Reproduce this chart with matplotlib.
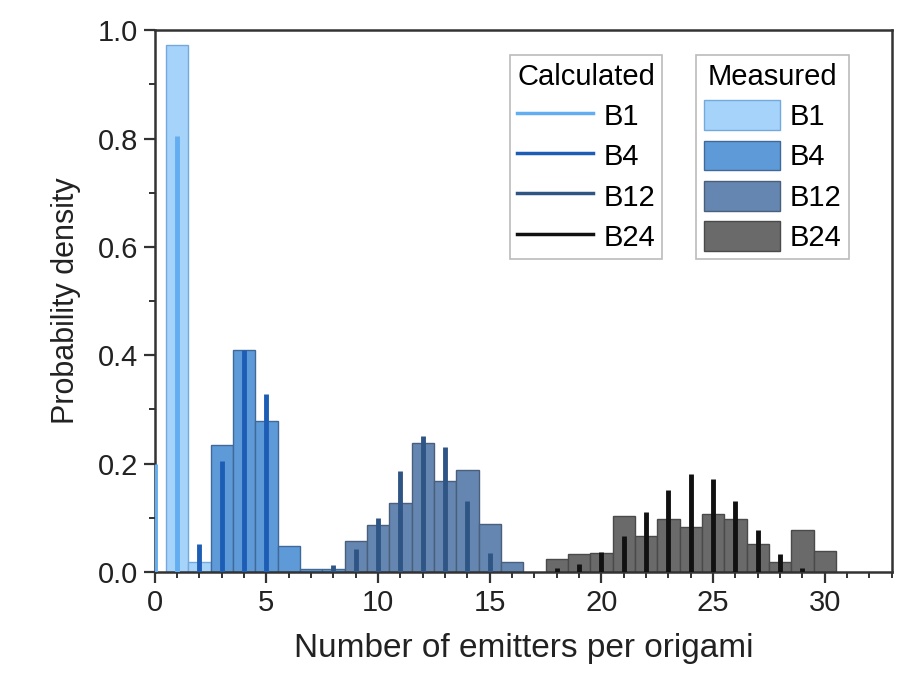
import matplotlib
matplotlib.use("Agg")
import matplotlib.pyplot as plt
from matplotlib.lines import Line2D
from matplotlib.patches import Patch
from matplotlib.ticker import MultipleLocator, FormatStrFormatter

plt.rcParams['font.family'] = ['Liberation Sans', 'DejaVu Sans']

series = ["B1", "B4", "B12", "B24"]

# Measured histograms (bin centre -> probability density)
meas_b1_x = [1, 2]
meas_b1_y = [0.972, 0.018]
meas_b4_x = [3, 4, 5, 6, 7, 8]
meas_b4_y = [0.235, 0.41, 0.278, 0.047, 0.006, 0.006]
meas_b12_x = [9, 10, 11, 12, 13, 14, 15, 16]
meas_b12_y = [0.057, 0.087, 0.128, 0.238, 0.168, 0.188, 0.088, 0.018]
meas_b24_x = [18, 19, 20, 21, 22, 23, 24, 25, 26, 27, 28, 29, 30]
meas_b24_y = [0.024, 0.033, 0.034, 0.103, 0.067, 0.097, 0.082, 0.107,
              0.097, 0.052, 0.018, 0.078, 0.038]

# Calculated distributions
calc_b1_x = [0, 1]
calc_b1_y = [0.2, 0.805]
calc_b4_x = [2, 3, 4, 5]
calc_b4_y = [0.051, 0.205, 0.41, 0.328]
calc_b12_x = [8, 9, 10, 11, 12, 13, 14, 15]
calc_b12_y = [0.013, 0.042, 0.10, 0.187, 0.25, 0.23, 0.131, 0.034]
calc_b24_x = [18, 19, 20, 21, 22, 23, 24, 25, 26, 27, 28, 29]
calc_b24_y = [0.008, 0.014, 0.037, 0.066, 0.111, 0.152, 0.18, 0.171,
              0.131, 0.077, 0.033, 0.008]

meas_x = [meas_b1_x, meas_b4_x, meas_b12_x, meas_b24_x]
meas_y = [meas_b1_y, meas_b4_y, meas_b12_y, meas_b24_y]
calc_x = [calc_b1_x, calc_b4_x, calc_b12_x, calc_b24_x]
calc_y = [calc_b1_y, calc_b4_y, calc_b12_y, calc_b24_y]

bar_face = ["#a6d3fa", "#5f9ad8", "#6586b0", "#6a6a6a"]
bar_edge = ["#74a9dc", "#40699a", "#4a5f7c", "#4a4a4a"]
line_col = ["#62aef0", "#1d5db5", "#2f5585", "#111111"]

fig = plt.figure(figsize=(9.10, 6.89), dpi=100)
ax = fig.add_axes([0.170, 0.170, 0.810, 0.786])

for xs, ys, fc, ec in zip(meas_x, meas_y, bar_face, bar_edge):
    ax.bar(xs, ys, width=1.0, color=fc, edgecolor=ec, linewidth=1.0, zorder=2)

for xs, ys, lc in zip(calc_x, calc_y, line_col):
    ax.vlines(xs, 0, ys, colors=lc, linewidth=3.5, zorder=3)

ax.set_xlim(0, 33)
ax.set_ylim(0, 1.0)
ax.xaxis.set_major_locator(MultipleLocator(5))
ax.xaxis.set_minor_locator(MultipleLocator(1))
ax.yaxis.set_major_locator(MultipleLocator(0.2))
ax.yaxis.set_minor_locator(MultipleLocator(0.1))
ax.yaxis.set_major_formatter(FormatStrFormatter('%.1f'))

for s in ax.spines.values():
    s.set_linewidth(1.8)
    s.set_color("#333333")
ax.tick_params(which='major', direction='out', length=8, width=1.6,
               labelsize=21, colors="#333333", labelcolor="#222222", pad=4)
ax.tick_params(which='minor', direction='out', length=4, width=1.4, colors="#333333")
ax.tick_params(top=False, right=False, which='both')

ax.set_xlabel("Number of emitters per origami", fontsize=24, color="#222222", labelpad=12)
ax.set_ylabel("Probability density", fontsize=22, color="#222222", labelpad=12)

calc_handles = [Line2D([0], [0], color=c, lw=2.5) for c in line_col]
meas_handles = [Patch(facecolor=f, edgecolor=e, linewidth=1.0) for f, e in zip(bar_face, bar_edge)]

leg_kw = dict(fontsize=21, title_fontsize=21, fancybox=False, framealpha=1,
              edgecolor="#bbbbbb", handlelength=2.6, handleheight=1.2,
              handletextpad=0.35, labelspacing=0.33, borderpad=0.25,
              borderaxespad=0.0)
leg1 = ax.legend(calc_handles, series, title="Calculated",
                 loc="upper left", bbox_to_anchor=(0.482, 0.954), **leg_kw)
leg1.get_frame().set_linewidth(1.2)
ax.add_artist(leg1)
leg2 = ax.legend(meas_handles, series, title="Measured",
                 loc="upper left", bbox_to_anchor=(0.735, 0.954), **leg_kw)
leg2.get_frame().set_linewidth(1.2)

fig.savefig("out.png", dpi=100)
